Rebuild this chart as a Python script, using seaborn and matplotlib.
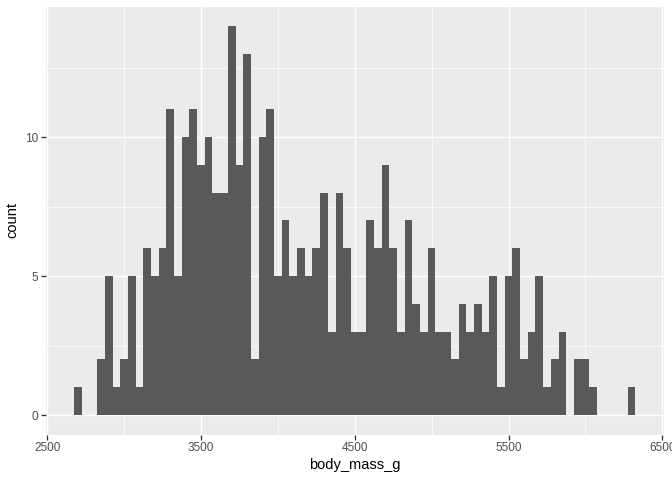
import matplotlib
matplotlib.use("Agg")
import matplotlib.pyplot as plt
import seaborn as sns
import numpy as np

bin_centers = [2700, 2750, 2800, 2850, 2900, 2950, 3000, 3050, 3100, 3150,
               3200, 3250, 3300, 3350, 3400, 3450, 3500, 3550, 3600, 3650,
               3700, 3750, 3800, 3850, 3900, 3950, 4000, 4050, 4100, 4150,
               4200, 4250, 4300, 4350, 4400, 4450, 4500, 4550, 4600, 4650,
               4700, 4750, 4800, 4850, 4900, 4950, 5000, 5050, 5100, 5150,
               5200, 5250, 5300, 5350, 5400, 5450, 5500, 5550, 5600, 5650,
               5700, 5750, 5800, 5850, 5900, 5950, 6000, 6050, 6100, 6150,
               6200, 6250, 6300]
counts = [1, 0, 0, 2, 5, 1, 2, 5, 1, 6,
          5, 6, 11, 5, 10, 11, 9, 10, 8, 8,
          14, 9, 13, 2, 10, 11, 5, 7, 5, 6,
          5, 6, 8, 3, 8, 6, 3, 3, 7, 6,
          9, 6, 3, 7, 4, 3, 6, 3, 3, 2,
          4, 3, 4, 3, 5, 1, 5, 6, 2, 3,
          5, 1, 2, 3, 0, 2, 2, 1, 0, 0,
          0, 0, 1]
x_ticks = [2500, 3500, 4500, 5500, 6500]
y_ticks = [0, 5, 10]

plt.rcParams['font.family'] = ['Liberation Sans', 'DejaVu Sans']

fig = plt.figure(figsize=(7, 5), dpi=96)
left, right, top, bottom = 46, 663.5, 6.5, 434.5
ax = fig.add_axes([left / 672, 1 - bottom / 480, (right - left) / 672, (bottom - top) / 480])
ax.set_facecolor('#EBEBEB')

sns.histplot(x=bin_centers, weights=counts, binwidth=50, binrange=(2675, 6325),
             color='#595959', alpha=1, edgecolor='none', linewidth=0, ax=ax, zorder=3)

ax.set_xlim(2492.5, 6507.5)
ax.set_ylim(-0.7, 14.7)
ax.set_xticks(x_ticks)
ax.set_xticklabels([str(t) for t in x_ticks])
ax.set_yticks(y_ticks)
ax.set_yticklabels([str(t) for t in y_ticks])
ax.set_xticks([3000, 4000, 5000, 6000], minor=True)
ax.set_yticks([2.5, 7.5, 12.5], minor=True)
ax.grid(which='major', color='white', linewidth=1.1, zorder=1)
ax.grid(which='minor', color='white', linewidth=0.55, zorder=1)
ax.set_axisbelow(True)
for s in ax.spines.values():
    s.set_visible(False)
ax.tick_params(which='major', length=3.6, width=1.0, color='#333333',
               labelcolor='#4D4D4D', labelsize=8.8, pad=2.2)
ax.tick_params(which='minor', length=0)
ax.set_xlabel('body_mass_g', fontsize=11, color='black', labelpad=3)
ax.set_ylabel('count', fontsize=11, color='black', labelpad=4)

fig.savefig('out.png', dpi=96)
